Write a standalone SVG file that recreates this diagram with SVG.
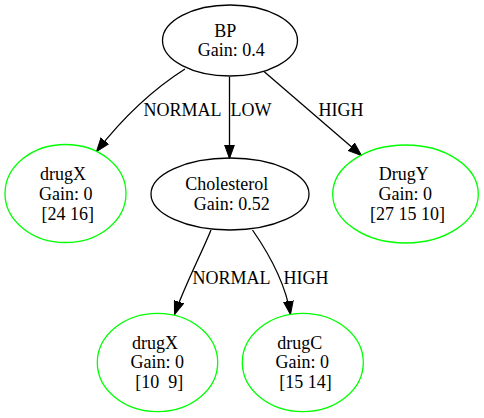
<svg xmlns="http://www.w3.org/2000/svg" width="484" height="418" viewBox="0 0 484 418" font-family="'Liberation Serif', serif" font-size="18">
<defs>
<style>
.n text{text-anchor:middle;white-space:pre;}
.inner{fill:none;stroke:#000;stroke-width:1.3;}
.leaf{fill:none;stroke:#00ff00;stroke-width:1.3;}
.e{fill:none;stroke:#000;stroke-width:1.3;marker-end:url(#arr);}
</style>
<marker id="arr" markerUnits="userSpaceOnUse" markerWidth="14" markerHeight="11" viewBox="0 0 14 11" refX="13.5" refY="5.5" orient="auto">
<path d="M0,0.6 L13.5,5.5 L0,10.4 Z" fill="#000" stroke="#000" stroke-width="1"/>
</marker>
</defs>
<rect width="484" height="418" fill="#fff"/>
<g id="edges">
<path class="e" d="M185,69 C155,88 125,115 96.5,151.5"/>
<path class="e" d="M229.5,77 L229.5,158.5"/>
<path class="e" d="M264,71.5 L361.5,155.5"/>
<path class="e" d="M211,230 C203,250 185,285 174.5,314.5"/>
<path class="e" d="M252.5,230 C265,248 285,280 290.5,314.5"/>
<text x="143.5" y="115.5">NORMAL</text>
<text x="230.5" y="115.5">LOW</text>
<text x="318.5" y="115.5">HIGH</text>
<text x="192.5" y="283.5">NORMAL</text>
<text x="283.5" y="283.5">HIGH</text>
</g>
<g id="BP" class="n">
<ellipse class="inner" cx="230" cy="40.5" rx="67.5" ry="35.5"/>
<text x="225.3" y="37.3">BP</text>
<text x="231.3" y="56">Gain: 0.4</text>
</g>
<g id="drugX1" class="n">
<ellipse class="leaf" cx="65.5" cy="193.5" rx="60.5" ry="49"/>
<text x="63" y="179.5">drugX</text>
<text x="65.8" y="199.5">Gain: 0</text>
<text x="67.8" y="219.5">[24 16]</text>
</g>
<g id="Cholesterol" class="n">
<ellipse class="inner" cx="230" cy="194" rx="79" ry="36"/>
<text x="226.8" y="190">Cholesterol</text>
<text x="231.8" y="210">Gain: 0.52</text>
</g>
<g id="DrugY" class="n">
<ellipse class="leaf" cx="405.5" cy="194" rx="72.8" ry="49"/>
<text x="403.8" y="179.5">DrugY</text>
<text x="405.3" y="199.5">Gain: 0</text>
<text x="407.5" y="219.5">[27 15 10]</text>
</g>
<g id="drugX2" class="n">
<ellipse class="leaf" cx="157.5" cy="362.5" rx="60.2" ry="49.2"/>
<text x="155" y="348.5">drugX</text>
<text x="157.2" y="368">Gain: 0</text>
<text x="159.2" y="387.5">[10  9]</text>
</g>
<g id="drugC" class="n">
<ellipse class="leaf" cx="302.8" cy="362.5" rx="60.5" ry="49.2"/>
<text x="299.7" y="348.5">drugC</text>
<text x="302.2" y="368">Gain: 0</text>
<text x="305.5" y="387.5">[15 14]</text>
</g>
</svg>
